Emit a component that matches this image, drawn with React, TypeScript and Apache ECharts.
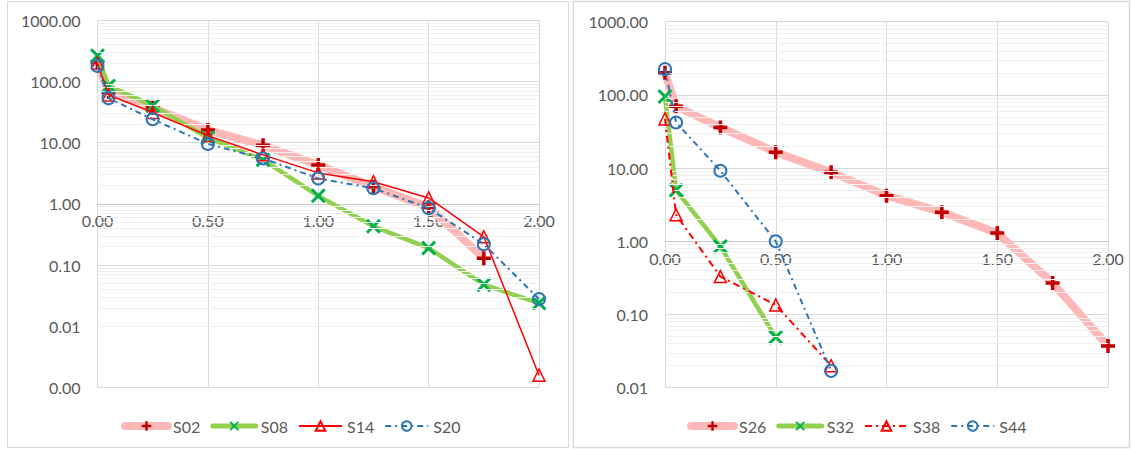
import React, { useEffect, useRef } from "react";
import * as echarts from "echarts";

// ---- data ----
const X_VALUES = [0, 0.05, 0.25, 0.5, 0.75, 1.0, 1.25, 1.5, 1.75, 2.0];
const X_TICKS = [0, 0.5, 1.0, 1.5, 2.0];

// left panel
const S02 = [205, 65, 37, 16, 9, 4.3, 1.9, 0.88, 0.13];
const S08 = [262, 84, 40, 12, 5.2, 1.35, 0.43, 0.19, 0.048, 0.024];
const S14 = [198, 60, 31, 13, 6.3, 3.2, 2.3, 1.25, 0.29, 0.0016];
const S20 = [178, 53, 24, 9.5, 5.5, 2.6, 1.8, 0.85, 0.22, 0.028];

// right panel
const S26 = [200, 70, 36, 16.5, 8.8, 4.2, 2.5, 1.3, 0.27, 0.037];
const S32 = [95, 5.0, 0.85, 0.049];
const S38 = [47, 2.3, 0.33, 0.135, 0.02];
const S44 = [225, 42, 9.2, 1.0, 0.017];

const LEFT_NAMES = ["S02", "S08", "S14", "S20"];
const RIGHT_NAMES = ["S26", "S32", "S38", "S44"];

const FONT = "Lato";
const TEXT = "#595959";
const GRID_C = "#d9d9d9";
const MINOR_C = "#efefef";

const PINK = "#ffb8b8";
const GREEN_L = "#92d050";

const PLUS = "path://M5.25,0H8.75V5.25H14V8.75H8.75V14H5.25V8.75H0V5.25H5.25Z";
const CROSS = "path://M0,2L2,0L7,5L12,0L14,2L9,7L14,12L12,14L7,9L2,14L0,12L5,7Z";

const pairs = (ys: number[]) => ys.map((y, i) => [X_VALUES[i], y]);

function minorValues(minExp: number, maxExp: number) {
  const out: number[] = [];
  for (let e = minExp; e < maxExp; e++) {
    for (let m = 2; m <= 9; m++) out.push(m * Math.pow(10, e));
  }
  return out;
}

const GRIDS = [
  { left: 97.5, top: 20, width: 441.5, height: 367.7, minExp: -3, maxExp: 3 },
  { left: 665, top: 21.7, width: 443, height: 366, minExp: -2, maxExp: 3 },
];

function pinkSeries(name: string, data: number[], idx: number) {
  return {
    name, type: "line", xAxisIndex: idx, yAxisIndex: idx, data: pairs(data),
    lineStyle: { color: PINK, width: 8 },
    symbol: PLUS, symbolSize: 14,
    itemStyle: { color: "#c00000" }, z: 3,
  };
}
function greenSeries(name: string, data: number[], idx: number) {
  return {
    name, type: "line", xAxisIndex: idx, yAxisIndex: idx, data: pairs(data),
    lineStyle: { color: GREEN_L, width: 4.5 },
    symbol: CROSS, symbolSize: 15,
    itemStyle: { color: "#00b050" }, z: 4,
  };
}
function redSeries(name: string, data: number[], idx: number, dashed: boolean) {
  return {
    name, type: "line", xAxisIndex: idx, yAxisIndex: idx, data: pairs(data),
    lineStyle: { color: "#ff0000", width: dashed ? 2 : 1.5, type: dashed ? [7, 4, 2, 4] : "solid" },
    symbol: "triangle", symbolSize: 12,
    itemStyle: { color: "rgba(255,255,255,0)", borderColor: "#ff0000", borderWidth: 1.5 }, z: 5,
  };
}
function blueSeries(name: string, data: number[], idx: number) {
  return {
    name, type: "line", xAxisIndex: idx, yAxisIndex: idx, data: pairs(data),
    lineStyle: { color: "#2e75b6", width: 2, type: [6, 4, 2, 4] },
    symbol: "circle", symbolSize: 12,
    itemStyle: { color: "rgba(255,255,255,0)", borderColor: "#2e75b6", borderWidth: 2 }, z: 6,
  };
}

function legendData(names: string[]) {
  return [
    { name: names[0], lineStyle: { width: 8, cap: "round", color: PINK } },
    { name: names[1], lineStyle: { width: 5, cap: "round", color: GREEN_L } },
    { name: names[2] },
    { name: names[3] },
  ];
}

export default function App() {
  const ref = useRef<HTMLDivElement>(null);
  useEffect(() => {
    document.body.style.margin = "0";
    if (!ref.current) return;
    const chart = echarts.init(ref.current, null, { renderer: "svg" });

    const grid = GRIDS.map((g) => ({ left: g.left, top: g.top, width: g.width, height: g.height }));
    const xAxis = GRIDS.map((g, i) => {
      const decade = g.height / (g.maxExp - g.minExp);
      const yOne = g.top + g.maxExp * decade;
      return {
        type: "value", gridIndex: i, min: 0, max: 2, interval: 0.5,
        offset: -(g.top + g.height - yOne),
        axisLine: { show: true, lineStyle: { color: "#c8c8c8", width: 1 } },
        axisTick: { show: false },
        axisLabel: {
          margin: 9, color: TEXT, fontSize: 16, fontFamily: FONT,
          showMinLabel: true, showMaxLabel: true,
          customValues: X_TICKS,
          formatter: (v: number) => Number(v).toFixed(2),
        },
        splitLine: { show: true, lineStyle: { color: GRID_C, width: 1 } },
      };
    });
    const yAxis = GRIDS.map((g, i) => ({
      type: "log", logBase: 10, gridIndex: i,
      min: Math.pow(10, g.minExp), max: Math.pow(10, g.maxExp),
      splitNumber: g.maxExp - g.minExp,
      axisLine: { show: true, lineStyle: { color: GRID_C } },
      axisTick: { show: false },
      axisLabel: {
        margin: 17, color: TEXT, fontSize: 16, fontFamily: FONT,
        formatter: (v: number) => Number(v).toFixed(2),
      },
      splitLine: { show: true, lineStyle: { color: GRID_C, width: 1 } },
    }));

    const minorSeries = GRIDS.map((g, i) => ({
      name: "_minor" + i, type: "line", xAxisIndex: i, yAxisIndex: i,
      data: [], silent: true, z: 1,
      markLine: {
        silent: true, symbol: "none", label: { show: false },
        lineStyle: { color: MINOR_C, width: 1, type: "solid" },
        data: minorValues(g.minExp, g.maxExp).map((v) => ({ yAxis: v })),
      },
    }));

    const legendBase = {
      top: 418, padding: 0, itemWidth: 43, itemHeight: 12, itemGap: 10,
      textStyle: { color: TEXT, fontSize: 16, fontFamily: FONT },
    };

    chart.setOption({
      animation: false,
      graphic: [
        { type: "rect", shape: { x: 7.5, y: 1.5, width: 561, height: 446 }, style: { fill: "none", stroke: GRID_C, lineWidth: 1 }, silent: true },
        { type: "rect", shape: { x: 573.5, y: 1.5, width: 556, height: 446 }, style: { fill: "none", stroke: GRID_C, lineWidth: 1.5 }, silent: true },
      ],
      grid,
      xAxis,
      yAxis,
      legend: [
        { ...legendBase, left: 121, data: legendData(LEFT_NAMES) },
        { ...legendBase, left: 687, data: legendData(RIGHT_NAMES) },
      ],
      series: [
        ...minorSeries,
        pinkSeries("S02", S02, 0),
        greenSeries("S08", S08, 0),
        redSeries("S14", S14, 0, false),
        blueSeries("S20", S20, 0),
        pinkSeries("S26", S26, 1),
        greenSeries("S32", S32, 1),
        redSeries("S38", S38, 1, true),
        blueSeries("S44", S44, 1),
      ],
    });
    return () => chart.dispose();
  }, []);
  return <div ref={ref} style={{ width: 1132, height: 449 }} />;
}
